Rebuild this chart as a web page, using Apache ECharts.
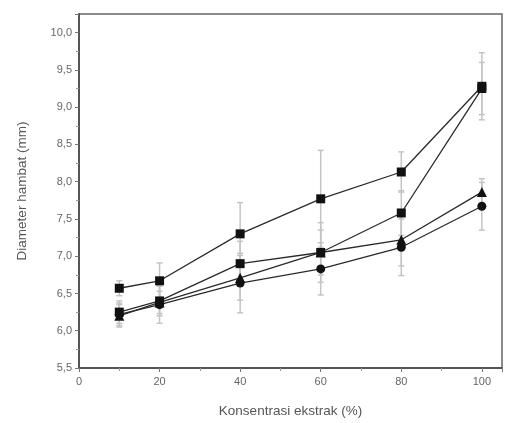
<!DOCTYPE html>
<html><head><meta charset="utf-8">
<script src="https://cdn.jsdelivr.net/npm/echarts@6/dist/echarts.min.js"></script>
<style>html,body{margin:0;padding:0;background:#fff}#c{width:512px;height:423px}</style>
</head><body><div id="c"></div>
<script>
const xValues = [10, 20, 40, 60, 80, 100];
const s1 = [6.57, 6.67, 7.30, 7.77, 8.13, 9.28];
const s2 = [6.25, 6.40, 6.90, 7.05, 7.58, 9.25];
const s3 = [6.20, 6.38, 6.71, 7.05, 7.22, 7.86];
const s4 = [6.22, 6.35, 6.64, 6.83, 7.12, 7.67];
const e1 = [0.10, 0.24, 0.42, 0.65, 0.27, 0.45];
const e2 = [0.15, 0.20, 0.30, 0.40, 0.30, 0.35];
const e3 = [0.15, 0.15, 0.30, 0.30, 0.35, 0.18];
const e4 = [0.15, 0.25, 0.40, 0.35, 0.38, 0.32];
const xTicks = [0, 20, 40, 60, 80, 100];
const yTickLabels = ['5,5','6,0','6,5','7,0','7,5','8,0','8,5','9,0','9,5','10,0'];

const chart = echarts.init(document.getElementById('c'));
const lineCol = '#2a2a2a';
function lineSeries(vals, sym) {
  return {
    type: 'line', data: xValues.map((x, i) => [x, vals[i]]),
    symbol: sym, symbolSize: sym === 'triangle' ? 10 : 9,
    itemStyle: { color: '#111' }, lineStyle: { color: lineCol, width: 1.3 },
    z: 3, animation: false
  };
}
function errSeries(vals, errs) {
  return {
    type: 'custom', z: 2, animation: false,
    data: xValues.map((x, i) => [x, vals[i] - errs[i], vals[i] + errs[i]]),
    renderItem: function (params, api) {
      const lo = api.coord([api.value(0), api.value(1)]);
      const hi = api.coord([api.value(0), api.value(2)]);
      const w = 3;
      const st = { stroke: '#c4c4c4', lineWidth: 1.5 };
      return { type: 'group', children: [
        { type: 'line', shape: { x1: lo[0], y1: lo[1], x2: hi[0], y2: hi[1] }, style: st },
        { type: 'line', shape: { x1: lo[0]-w, y1: lo[1], x2: lo[0]+w, y2: lo[1] }, style: st },
        { type: 'line', shape: { x1: hi[0]-w, y1: hi[1], x2: hi[0]+w, y2: hi[1] }, style: st }
      ]};
    }
  };
}
const fontFam = 'Liberation Sans, Arial, sans-serif';
chart.setOption({
  animation: false,
  grid: { left: 79, right: 10, top: 14, bottom: 55, show: true, borderColor: '#666', borderWidth: 1.5, backgroundColor: '#fff' },
  xAxis: {
    type: 'value', min: 0, max: 105, interval: 20,
    name: 'Konsentrasi ekstrak (%)', nameLocation: 'middle', nameGap: 36,
    nameTextStyle: { color: '#555', fontSize: 13.5, fontFamily: fontFam },
    axisLine: { show: true, lineStyle: { color: '#555', width: 2 } },
    axisTick: { show: true, length: 4, lineStyle: { color: '#777' } },
    minorTick: { show: true, splitNumber: 2, length: 3, lineStyle: { color: '#999' } },
    axisLabel: { color: '#666', fontSize: 11, fontFamily: fontFam, margin: 8,
      formatter: v => xTicks.indexOf(v) >= 0 ? String(v) : '' },
    splitLine: { show: false }
  },
  yAxis: {
    type: 'value', min: 5.5, max: 10.25, interval: 0.5,
    name: 'Diameter hambat (mm)', nameLocation: 'middle', nameGap: 50,
    nameTextStyle: { color: '#555', fontSize: 13.5, fontFamily: fontFam },
    axisLine: { show: true, lineStyle: { color: '#555', width: 2 } },
    axisTick: { show: true, length: 4, lineStyle: { color: '#777' } },
    minorTick: { show: true, splitNumber: 2, length: 3, lineStyle: { color: '#999' } },
    axisLabel: { color: '#666', fontSize: 11, fontFamily: fontFam, margin: 7,
      formatter: v => { const i = Math.round((v - 5.5) / 0.5); return Math.abs(v - (5.5 + i*0.5)) < 1e-6 && i < yTickLabels.length ? yTickLabels[i] : ''; } },
    splitLine: { show: false }
  },
  series: [
    errSeries(s1, e1), errSeries(s2, e2), errSeries(s3, e3), errSeries(s4, e4),
    lineSeries(s1, 'rect'), lineSeries(s2, 'rect'), lineSeries(s3, 'triangle'), lineSeries(s4, 'circle')
  ]
});
</script></body></html>
